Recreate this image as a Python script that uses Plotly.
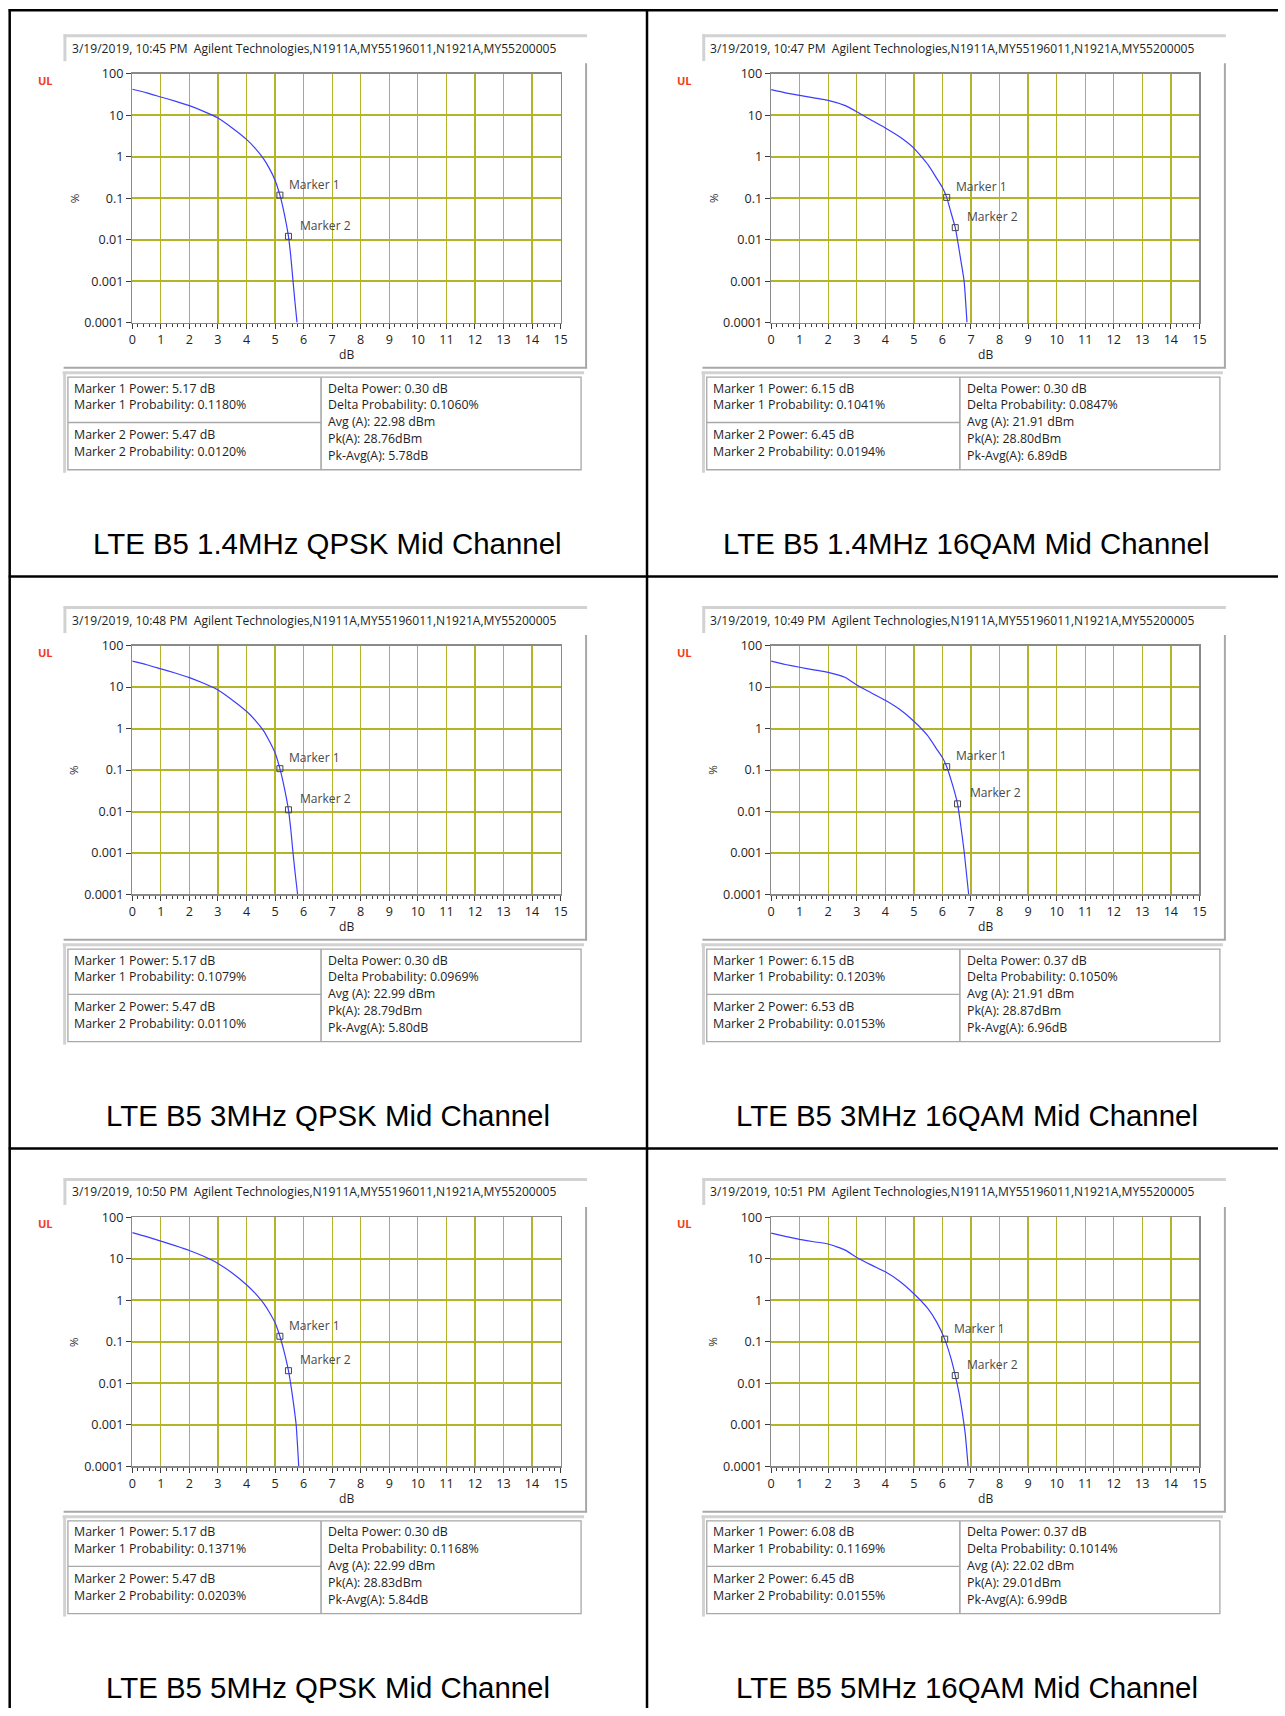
import math
import plotly.graph_objects as go

W, H = 1285, 1716
# measured capture transform (observed = offset + scale * page coordinate); inverted below
CAP_OX, CAP_SX = 4.3, 0.9925
CAP_OY, CAP_SY = 8.8, 0.9911

# ---------------- data ----------------
titles = ["LTE B5 1.4MHz QPSK Mid Channel", "LTE B5 1.4MHz 16QAM Mid Channel",
          "LTE B5 3MHz QPSK Mid Channel", "LTE B5 3MHz 16QAM Mid Channel",
          "LTE B5 5MHz QPSK Mid Channel", "LTE B5 5MHz 16QAM Mid Channel"]
times = ["10:45", "10:47", "10:48", "10:49", "10:50", "10:51"]
m1_power = ["5.17", "6.15", "5.17", "6.15", "5.17", "6.08"]
m1_prob = ["0.1180", "0.1041", "0.1079", "0.1203", "0.1371", "0.1169"]
m2_power = ["5.47", "6.45", "5.47", "6.53", "5.47", "6.45"]
m2_prob = ["0.0120", "0.0194", "0.0110", "0.0153", "0.0203", "0.0155"]
delta_power = ["0.30", "0.30", "0.30", "0.37", "0.30", "0.37"]
delta_prob = ["0.1060", "0.0847", "0.0969", "0.1050", "0.1168", "0.1014"]
avg_a = ["22.98", "21.91", "22.99", "21.91", "22.99", "22.02"]
pk_a = ["28.76", "28.80", "28.79", "28.87", "28.83", "29.01"]
pk_avg = ["5.78", "6.89", "5.80", "6.96", "5.84", "6.99"]

x_tickvals = list(range(0, 16))
y_tickvals = [100, 10, 1, 0.1, 0.01, 0.001, 0.0001]
y_ticktext = ["100", "10", "1", "0.1", "0.01", "0.001", "0.0001"]

# CCDF curves (dB, %)
db1 = [0, 0.5, 1, 1.5, 2, 2.5, 3, 3.5, 4, 4.3, 4.6, 4.8, 5.0, 5.17, 5.3, 5.47, 5.55, 5.63, 5.7, 5.77]
pc1 = [42, 34.5, 27.4, 21.8, 16.9, 12.3, 8.5, 4.9, 2.6, 1.6, 0.88, 0.52, 0.27, 0.118, 0.05, 0.012, 0.004, 0.001, 0.0003, 0.0001]
db2 = [0, 0.5, 1, 1.5, 2, 2.6, 3, 3.5, 4, 4.5, 5, 5.5, 5.8, 6.0, 6.15, 6.3, 6.45, 6.55, 6.65, 6.76, 6.86]
pc2 = [41, 34.5, 29.9, 26, 22.7, 16.9, 12.1, 7.6, 4.9, 3.0, 1.6, 0.63, 0.3, 0.18, 0.1041, 0.045, 0.0194, 0.008, 0.003, 0.001, 0.0001]
db3 = [0, 0.5, 1, 1.5, 2, 2.5, 3, 3.5, 4, 4.3, 4.6, 4.8, 5.0, 5.17, 5.3, 5.47, 5.55, 5.63, 5.71, 5.79]
pc3 = [42, 34.5, 27.4, 21.8, 16.9, 12.3, 8.5, 4.9, 2.6, 1.6, 0.88, 0.5, 0.26, 0.108, 0.045, 0.011, 0.0038, 0.001, 0.0003, 0.0001]
db4 = [0, 0.5, 1, 1.5, 2, 2.6, 3, 3.5, 4, 4.5, 5, 5.47, 5.8, 6.0, 6.15, 6.35, 6.53, 6.62, 6.76, 6.92]
pc4 = [42, 35, 30, 26, 22.6, 17, 11.2, 7.3, 4.8, 2.9, 1.5, 0.69, 0.32, 0.2, 0.1203, 0.045, 0.0153, 0.006, 0.0011, 0.0001]
db5 = [0, 0.5, 1, 1.5, 2, 2.5, 3, 3.5, 4, 4.3, 4.6, 4.8, 5.0, 5.17, 5.3, 5.47, 5.58, 5.66, 5.74, 5.83]
pc5 = [43, 34.5, 27, 21, 16, 11.6, 7.8, 4.6, 2.4, 1.5, 0.85, 0.52, 0.29, 0.137, 0.065, 0.0203, 0.007, 0.0028, 0.001, 0.0001]
db6 = [0, 0.5, 1, 1.5, 2, 2.6, 3, 3.5, 4, 4.5, 5, 5.48, 5.8, 6.08, 6.3, 6.45, 6.58, 6.7, 6.8, 6.9]
pc6 = [42, 35, 29.8, 26, 22.9, 16.3, 10.9, 7.2, 4.9, 2.9, 1.45, 0.65, 0.3, 0.1169, 0.04, 0.0155, 0.006, 0.0019, 0.0006, 0.0001]
curves_db = [db1, db2, db3, db4, db5, db6]
curves_pc = [pc1, pc2, pc3, pc4, pc5, pc6]

# ---------------- styling ----------------
FONT = "Open Sans"
TXT = "#1e1e1e"
GRID = "#b4b428"
CURVE = "#3c3cff"
BORDER_GREY = "#a8a8a8"
BEVEL = "#d2d2d2"
FS = 1 / CAP_SX  # font compensation for capture scale


def px(x):
    """target pixel x -> paper fraction"""
    return ((x - CAP_OX) / CAP_SX) / W


def py(y):
    """target pixel y -> paper fraction"""
    return 1 - ((y - CAP_OY) / CAP_SY) / H


fig = go.Figure()
shapes = []
annotations = []
layout_axes = {}


def hline(x0, x1, y, color, width, paper_y=None):
    yy = py(y) if paper_y is None else paper_y
    shapes.append(dict(type="line", xref="paper", yref="paper", x0=max(px(x0), 0), x1=min(px(x1), 1),
                       y0=yy, y1=yy, line=dict(color=color, width=width), layer="above"))


def vline(x, y0, y1, color, width):
    shapes.append(dict(type="line", xref="paper", yref="paper", x0=px(x), x1=px(x),
                       y0=min(py(y0), 1), y1=max(py(y1), 0), line=dict(color=color, width=width),
                       layer="above"))


def text(x, y, s, size, color=TXT, xanchor="left", family=FONT, angle=0):
    annotations.append(dict(xref="paper", yref="paper", x=px(x), y=py(y), text=s,
                            showarrow=False, xanchor=xanchor, yanchor="middle",
                            textangle=angle, font=dict(family=family, size=size * FS, color=color)))


# outer table grid
hline(9, 1300, 5, "black", 2.5, paper_y=1 - 1.3 / H)
hline(9, 1300, 577, "black", 2.5)
hline(9, 1300, 1149.5, "black", 2.5)
vline(10, 0, 1730, "black", 2.5)
vline(648, 0, 1730, "black", 2.5)

for i in range(6):
    n = i + 1
    col, row = i % 2, i // 2
    dx, dy = col * 639.5, row * 572.5
    xa = "x" if n == 1 else f"x{n}"
    ya = "y" if n == 1 else f"y{n}"

    # header box (bevel on top / left)
    hline(64 + dx, 588 + dx, 35.5 + dy, BEVEL, 3)
    vline(65.3 + dx, 34 + dy, 61 + dy, BEVEL, 3)
    text(70 + dx, 48 + dy,
         f"3/19/2019, {times[i]} PM\u00a0\u00a0Agilent Technologies,N1911A,MY55196011,N1921A,MY55200005",
         12)

    # chart panel edges (right / bottom)
    vline(587 + dx, 63 + dy, 368.5 + dy, BORDER_GREY, 2)
    hline(64 + dx, 588 + dx, 368 + dy, BORDER_GREY, 2)

    # UL label, % label, dB label
    text(46 + dx, 80 + dy, "<b>UL</b>", 11, color="#f23c1e", xanchor="center")
    text(74.5 + dx, 198 + dy, "%", 11.5, xanchor="center", angle=-90)
    text(347.5 + dx, 355 + dy, "dB", 12, xanchor="center")

    # table
    hline(63 + dx, 585 + dx, 373 + dy, BEVEL, 3)
    vline(65 + dx, 372 + dy, 473 + dy, BEVEL, 3)
    shapes.append(dict(type="rect", xref="paper", yref="paper", x0=px(68.3 + dx), x1=px(582 + dx),
                       y0=py(470 + dy), y1=py(377.3 + dy), line=dict(color=BORDER_GREY, width=1.3)))
    vline(321.7 + dx, 377.3 + dy, 470 + dy, BORDER_GREY, 1.6)
    hline(68.3 + dx, 321.7 + dx, 422.7 + dy, BORDER_GREY, 1.3)

    tx, rx = 72.3 + dx, 327 + dx
    text(tx, 388.3 + dy, f"Marker 1 Power: {m1_power[i]} dB", 12.3)
    text(tx, 405 + dy, f"Marker 1 Probability: {m1_prob[i]}%", 12.3)
    text(tx, 435 + dy, f"Marker 2 Power: {m2_power[i]} dB", 12.3)
    text(tx, 451.7 + dy, f"Marker 2 Probability: {m2_prob[i]}%", 12.3)
    text(rx, 388.3 + dy, f"Delta Power: {delta_power[i]} dB", 12.3)
    text(rx, 405 + dy, f"Delta Probability: {delta_prob[i]}%", 12.3)
    text(rx, 421.7 + dy, f"Avg (A): {avg_a[i]} dBm", 12.3)
    text(rx, 439 + dy, f"Pk(A): {pk_a[i]}dBm", 12.3)
    text(rx, 455.7 + dy, f"Pk-Avg(A): {pk_avg[i]}dB", 12.3)

    # caption
    text(328.5 + dx, 544 + dy, titles[i], 29.2, color="black", xanchor="center",
         family="Liberation Sans, Arial")

    # axes
    layout_axes["xaxis" if n == 1 else f"xaxis{n}"] = dict(
        domain=[px(132.7 + dx), px(561.5 + dx)], anchor=ya, range=[0, 15],
        tickvals=x_tickvals, showgrid=True, gridcolor=GRID, gridwidth=1.3,
        zeroline=False, showline=True, linecolor="#8a8a8a", linewidth=1.3, mirror=True,
        ticks="outside", ticklen=5, tickwidth=1, tickcolor="#3a3a3a",
        minor=dict(dtick=0.2, ticks="outside", ticklen=3, tickwidth=1, tickcolor="#3a3a3a", showgrid=False),
        tickfont=dict(family=FONT, size=12.5 * FS, color=TXT), fixedrange=True)
    layout_axes["yaxis" if n == 1 else f"yaxis{n}"] = dict(
        domain=[py(322.7 + dy), py(73.5 + dy)], anchor=xa, type="log", range=[-4, 2],
        tickvals=y_tickvals, ticktext=y_ticktext, showgrid=True, gridcolor=GRID, gridwidth=2,
        zeroline=False, showline=True, linecolor="#8a8a8a", linewidth=1.3, mirror=True,
        ticks="outside", ticklen=5, tickwidth=1, tickcolor="#3a3a3a",
        tickfont=dict(family=FONT, size=12.5 * FS, color=TXT), fixedrange=True)

    # curve
    fig.add_trace(go.Scatter(x=curves_db[i], y=curves_pc[i], mode="lines",
                             line=dict(color=CURVE, width=1.2, shape="spline", smoothing=0.5),
                             xaxis=xa, yaxis=ya, showlegend=False, hoverinfo="skip"))
    # markers
    mx = [float(m1_power[i]), float(m2_power[i])]
    my = [float(m1_prob[i]), float(m2_prob[i])]
    fig.add_trace(go.Scatter(x=mx, y=my, mode="markers",
                             marker=dict(symbol="square-open", size=6, color="#454545",
                                         line=dict(width=1, color="#454545")),
                             xaxis=xa, yaxis=ya, showlegend=False, hoverinfo="skip"))
    for k, (xv, yv) in enumerate(zip(mx, my)):
        annotations.append(dict(xref=xa, yref=ya, x=xv, y=math.log10(yv), text=f"Marker {k + 1}",
                                showarrow=False, xanchor="left", yanchor="middle",
                                xshift=7 if k == 0 else 10, yshift=11,
                                font=dict(family=FONT, size=12 * FS, color="#4a4a4a")))

fig.update_layout(width=W, height=H, autosize=False,
                  margin=dict(l=0, r=0, t=0, b=0, pad=0),
                  paper_bgcolor="white", plot_bgcolor="white",
                  shapes=shapes, annotations=annotations, **layout_axes)

# page without the default body margin, so the figure sits at the window origin
fig.write_html("out.html",
               config={"displayModeBar": False, "staticPlot": True},
               post_script="document.body.style.margin='0px'; "
                           "document.documentElement.style.overflow='hidden'; "
                           "document.body.style.overflow='hidden';")
